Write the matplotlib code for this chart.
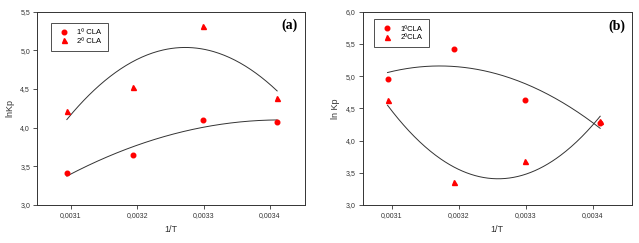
import numpy as np
import matplotlib
matplotlib.use("Agg")
import matplotlib.pyplot as plt
from matplotlib.ticker import FuncFormatter, FixedLocator

plt.rcParams['font.family'] = ['Liberation Sans', 'DejaVu Sans']

# Data (1/T at 50, 40, 30, 20 C)
inv_T = [0.003094, 0.003193, 0.003299, 0.003411]
a_cla1 = [3.41, 3.65, 4.10, 4.07]
a_cla2 = [4.22, 4.53, 5.32, 4.38]
b_cla1 = [4.96, 5.42, 4.63, 4.27]
b_cla2 = [4.63, 3.36, 3.69, 4.31]

xticks = [0.0031, 0.0032, 0.0033, 0.0034]

fig = plt.figure(figsize=(6.39, 2.43), dpi=100)

def setup(ax, ylim, yticks, ylabel, tag, tagpos, xlim):
    ax.set_xlim(*xlim)
    ax.set_ylim(*ylim)
    ax.xaxis.set_major_locator(FixedLocator(xticks))
    ax.yaxis.set_major_locator(FixedLocator(yticks))
    ax.xaxis.set_major_formatter(FuncFormatter(lambda v, p: f"{v:.4f}".replace('.', ',')))
    ax.yaxis.set_major_formatter(FuncFormatter(lambda v, p: f"{v:.1f}".replace('.', ',')))
    ax.tick_params(direction='out', length=3, width=0.6, labelsize=5, pad=2, colors='#333333')
    for s in ax.spines.values():
        s.set_linewidth(0.7)
        s.set_color('#333333')
    ax.set_xlabel('1/T', fontsize=6.5, labelpad=4, color='#333333')
    ax.set_ylabel(ylabel, fontsize=6.5, labelpad=4, color='#333333')
    ax.text(tagpos[0], tagpos[1], tag, transform=ax.transAxes, fontsize=10, fontweight='bold',
            family='Liberation Serif', ha='center', va='center')

def draw(ax, y1, y2, labels, legpos):
    xs = np.array(inv_T)
    xx = np.linspace(xs.min(), xs.max(), 200)
    for y in (y1, y2):
        c = np.polyfit(xs, np.array(y), 2)
        ax.plot(xx, np.polyval(c, xx), color='#333333', lw=0.7)
    ax.plot(xs, y1, 'o', color='red', ms=3.3, ls='none', label=labels[0])
    ax.plot(xs, y2, '^', color='red', ms=3.6, ls='none', label=labels[1])
    leg = ax.legend(loc='upper left', bbox_to_anchor=legpos, borderaxespad=0, fontsize=5.5,
                    frameon=True, fancybox=False, edgecolor='#222222', handletextpad=0.8,
                    borderpad=0.8, labelspacing=0.2, handlelength=1.9)
    leg.get_frame().set_linewidth(0.7)

ax1 = fig.add_axes([37/639, 1-205/243, 268/639, 193.3/243])
setup(ax1, (3.0, 5.5), [3.0, 3.5, 4.0, 4.5, 5.0, 5.5], 'lnKp', '(a)', (0.944, 0.931), (0.003049, 0.003453))
draw(ax1, a_cla1, a_cla2, ['1º CLA', '2º CLA'], (0.051, 0.943))

ax2 = fig.add_axes([362.7/639, 1-205/243, 269/639, 193.3/243])
setup(ax2, (3.0, 6.0), [3.0, 3.5, 4.0, 4.5, 5.0, 5.5, 6.0], 'ln Kp', '(b)', (0.945, 0.926), (0.003057, 0.003458))
draw(ax2, b_cla1, b_cla2, ['1ºCLA', '2ºCLA'], (0.042, 0.962))

fig.savefig('out.png', dpi=100)
